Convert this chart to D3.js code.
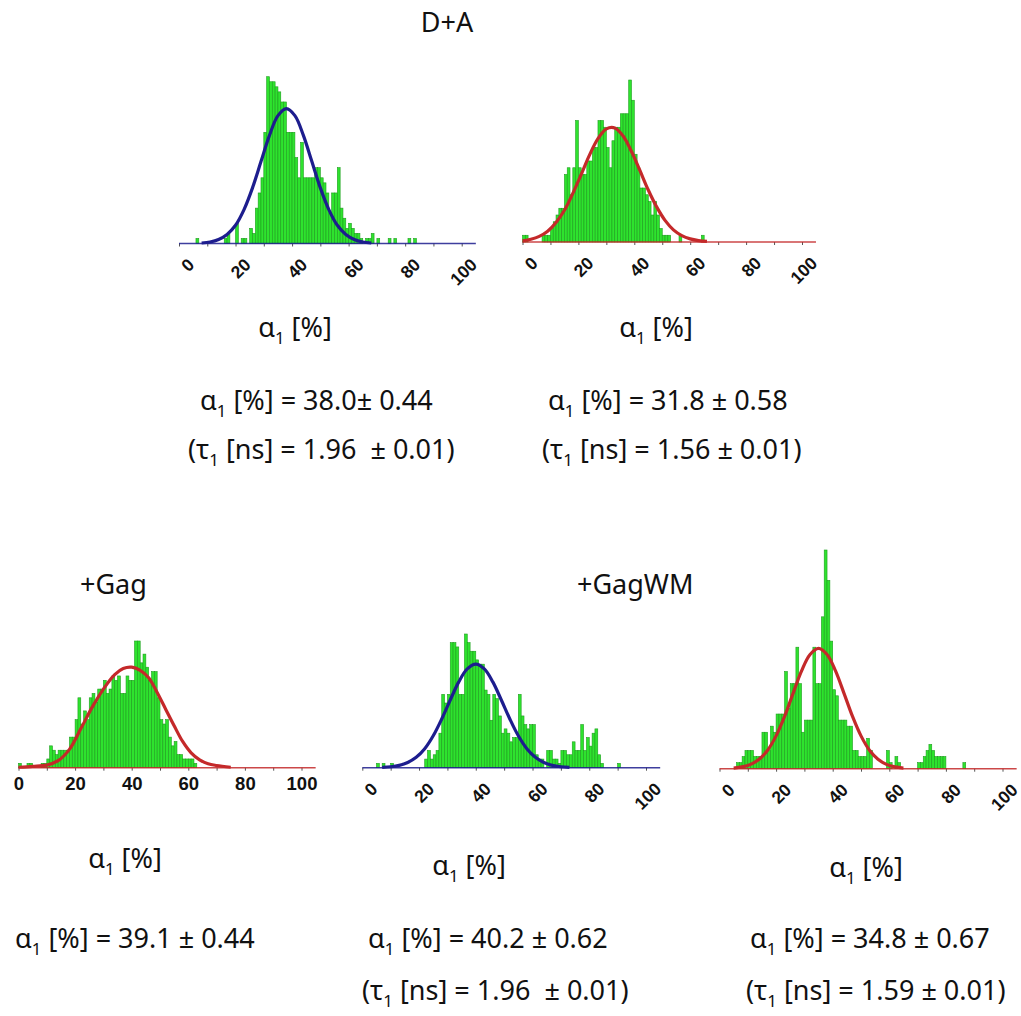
<!DOCTYPE html>
<html><head><meta charset="utf-8">
<script src="https://cdn.jsdelivr.net/npm/d3@7"></script>
<style>
body{margin:0;background:#fff}
svg{display:block}
text{white-space:pre}
</style>
</head><body>
<svg id="chart" width="1021" height="1016"></svg>
<script>
// ---------------- DATA ----------------
// Histogram counts per 1 % bin of alpha1, index = bin start (0,1,2,...)
const countsDA1 = [
 0,0,0,0,0,0,1,0,0,0,
 0,0,0,0,0,0,1,2,0,0,
 4,0,1,1,0,3,2,7,10,13,
 22,33,32,32,31,30,28,28,22,22,
 22,17,13,20,13,13,13,13,15,15,
 13,12,10,6,10,10,15,7,5,3,
 4,3,2,2,1,0,1,1,2,0,
 1,0,0,0,1,0,1,0,0,0,
 0,1,0,1,0];
const countsDA2 = [
 1,1,0,0,0,0,0,1,1,1,
 2,3,4,5,5,10,11,7,11,18,
 11,10,10,12,12,14,14,18,18,17,
 14,11,15,17,17,19,19,19,24,21,
 13,11,8,8,7,6,4,6,4,2,
 1,1,1,0,0,0,1,0,0,0,
 0,0,0,0,1];
const countsGag = [
 1,0,0,1,1,0,0,0,1,1,
 2,5,4,3,4,4,4,4,7,7,
 11,16,10,13,11,16,17,15,18,18,
 20,17,18,21,20,21,17,17,21,20,
 20,29,29,24,26,23,20,22,22,16,
 11,10,11,7,5,6,3,3,2,2,
 2,2,1,0];
const countsGagWM1 = [
 0,0,0,0,0,1,0,1,0,0,
 1,0,0,0,0,0,0,0,0,0,
 0,0,2,4,2,3,4,8,17,15,
 17,29,29,28,17,17,31,29,27,27,
 25,24,24,18,17,11,17,16,12,8,
 9,8,6,7,7,17,12,10,9,10,
 10,3,2,2,0,4,4,2,2,1,
 4,4,3,3,6,4,4,10,4,7,
 5,8,9,3,1,0,0,0,0,0,
 1];
const countsGagWM2 = [
 0,0,0,0,0,0,1,1,2,3,
 3,3,2,2,2,6,6,3,7,6,
 9,9,9,16,10,14,14,20,14,6,
 8,8,8,20,14,14,25,36,31,21,
 13,12,8,8,8,7,7,3,3,2,
 2,2,5,3,0,0,0,0,0,3,
 1,0,2,1,0,0,0,0,0,0,
 1,1,2,3,4,3,2,2,2,2,
 0,0,0,0,0,0,1];

// Gaussian fit curves, points [alpha1, count]
const fitDA1 = [[8,0.1],[11,0.3],[14,0.8],[17,1.8],[20,3.6],[23,6.7],[26,11.0],[29,16.2],[32,21.4],[35,25.3],[38,26.7],[41,25.3],[44,21.4],[47,16.2],[50,11.0],[53,6.7],[56,3.6],[59,1.8],[62,0.8],[65,0.3],[68,0.1]];
const fitDA2 = [[0,0.17],[3,0.4],[6,0.83],[9,1.6],[12,2.9],[15,4.7],[18,7.2],[21,10.0],[24,12.9],[27,15.3],[30,16.75],[33,16.9],[36,15.7],[39,13.4],[42,10.6],[45,7.7],[48,5.2],[51,3.2],[54,1.8],[57,0.95],[60,0.46],[63,0.21],[66,0.09]];
const fitGag = [[0,0.1],[5,0.3],[10,0.6],[14,1.6],[18,4.2],[22,8.9],[26,13.8],[30,18.0],[34,21.3],[37,22.7],[40,23.0],[43,22.3],[46,20.6],[49,17.2],[52,13.4],[55,9.6],[58,6.0],[61,3.4],[64,1.8],[67,0.9],[70,0.5],[75,0.1]];
const fitGagWM1 = [[7,0.08],[10,0.22],[13,0.54],[16,1.2],[19,2.4],[22,4.4],[25,7.4],[28,11.3],[31,15.7],[34,19.9],[37,22.9],[40,24],[43,22.9],[46,19.9],[49,15.7],[52,11.3],[55,7.4],[58,4.4],[61,2.4],[64,1.2],[67,0.54],[70,0.22],[73,0.08]];
const fitGagWM2 = [[5,0.11],[8,0.29],[11,0.71],[14,1.55],[17,3.04],[20,5.4],[23,8.6],[26,12.4],[29,16.1],[32,18.8],[35,19.8],[38,18.8],[41,16.1],[44,12.4],[47,8.6],[50,5.4],[53,3.04],[56,1.55],[59,0.71],[62,0.29],[65,0.11]];

// Axis ticks
const tickValues = [0,10,20,30,40,50,60,70,80,90,100];
const tickLabels = ["0","","20","","40","","60","","80","","100"];

// Texts
const groupTitles = ["D+A", "+Gag", "+GagWM"];
const alphaValues = ["38.0± 0.44", "31.8 ± 0.58", "39.1 ± 0.44", "40.2 ± 0.62", "34.8 ± 0.67"];
const tauValues   = ["1.96  ± 0.01", "1.56 ± 0.01", null, "1.96  ± 0.01", "1.59 ± 0.01"];

// ---------------- LAYOUT ----------------
const BLUE = "#1d1d8e", RED = "#c4292a";
const BAR_FILL = "#2ee32e", BAR_STROKE = "#1e9e1e";
const TXT_FONT = "'Noto Sans', 'Open Sans', sans-serif";
const TICK_FONT = "'Liberation Sans', Arial, sans-serif";
const FS = 27;

const panels = [
  {counts: countsDA1,    fit: fitDA1,    color: BLUE, x0: 179,   x100: 461.7,  base: 243.5, top: 76.7, rotated: true,
   xl: [295, 337], al: [200, 410], tl: [188, 459]},
  {counts: countsDA2,    fit: fitDA2,    color: RED,  x0: 522.5, x100: 802,    base: 242,   top: 80,   rotated: true,
   xl: [656, 337], al: [548, 410], tl: [542, 459]},
  {counts: countsGag,    fit: fitGag,    color: RED,  x0: 18.5,  x100: 301.5,  base: 767.7, top: 641,  rotated: false,
   xl: [125, 868], al: [15, 948],  tl: null},
  {counts: countsGagWM1, fit: fitGagWM1, color: BLUE, x0: 362.3, x100: 646,    base: 767.7, top: 634,  rotated: true,
   xl: [469, 875], al: [368, 948], tl: [362, 1000]},
  {counts: countsGagWM2, fit: fitGagWM2, color: RED,  x0: 719.5, x100: 1002.5, base: 768.7, top: 550,  rotated: true,
   xl: [866, 877], al: [750, 948], tl: [746, 1000]}
];

const svg = d3.select("#chart");
svg.append("rect").attr("width",1021).attr("height",1016).attr("fill","#fff");

// text helper with subscript
function mathText(x, y, parts, anchor) {
  const t = svg.append("text")
    .attr("x", x).attr("y", y)
    .attr("font-family", TXT_FONT).attr("font-size", FS)
    .attr("fill", "#111").attr("text-anchor", anchor || "start");
  parts.forEach(p => {
    const s = t.append("tspan").text(p[0]);
    if (p[1] === "sub") s.attr("font-size", FS*0.62).attr("dy", 7);
    else if (p[1] === "back") s.attr("dy", -7);
  });
  return t;
}

panels.forEach((p, i) => {
  const x = d3.scaleLinear().domain([0, 100]).range([p.x0, p.x100]);
  const y = d3.scaleLinear().domain([0, d3.max(p.counts)]).range([p.base, p.top]);
  const g = svg.append("g");

  // bars
  g.selectAll("rect.bar")
    .data(p.counts.map((c, k) => ({u: k, c: c})).filter(d => d.c > 0))
    .join("rect")
    .attr("class", "bar")
    .attr("x", d => x(d.u))
    .attr("width", d => x(d.u + 1) - x(d.u))
    .attr("y", d => y(d.c))
    .attr("height", d => p.base - y(d.c))
    .attr("fill", BAR_FILL)
    .attr("stroke", BAR_STROKE)
    .attr("stroke-width", 0.6);

  // axis with ticks
  const axis = d3.axisBottom(x)
    .tickValues(tickValues)
    .tickSize(3)
    .tickSizeOuter(0)
    .tickFormat((d, k) => tickLabels[k]);
  const ag = g.append("g").attr("transform", `translate(0,${p.base})`).call(axis);
  ag.select(".domain").remove();
  ag.selectAll(".tick line").attr("stroke", "#555").attr("stroke-width", 1);
  ag.selectAll(".tick text")
    .attr("font-family", TICK_FONT)
    .attr("font-weight", "bold")
    .attr("fill", "#111");
  if (p.rotated) {
    ag.selectAll(".tick text")
      .attr("font-size", 17.5)
      .attr("x", 0).attr("y", 0).attr("dy", "0.35em")
      .attr("text-anchor", "end")
      .attr("transform", "translate(11.5,18) rotate(-45)");
  } else {
    ag.selectAll(".tick text")
      .attr("font-size", 18.5)
      .attr("y", 22.5).attr("dy", 0);
  }

  // baseline (axis line) in curve colour
  g.append("line")
    .attr("x1", x(0)).attr("x2", x(105))
    .attr("y1", p.base).attr("y2", p.base)
    .attr("stroke", p.color).attr("stroke-width", 1.6).attr("opacity", 0.85);

  // fit curve
  const line = d3.line()
    .x(d => x(d[0])).y(d => y(d[1]))
    .curve(d3.curveCatmullRom.alpha(0.5));
  g.append("path")
    .attr("d", line(p.fit))
    .attr("fill", "none")
    .attr("stroke", p.color)
    .attr("stroke-width", 3.2)
    .attr("stroke-linejoin", "round");

  // texts
  mathText(p.xl[0], p.xl[1], [["α"], ["1","sub"], [" [%]","back"]], "middle");
  mathText(p.al[0], p.al[1], [["α"], ["1","sub"], [" [%] = " + alphaValues[i], "back"]]);
  if (p.tl && tauValues[i]) {
    mathText(p.tl[0], p.tl[1], [["(τ"], ["1","sub"], [" [ns] = " + tauValues[i] + ")", "back"]]);
  }
});

// group titles
svg.append("text").attr("x", 447).attr("y", 32).attr("text-anchor","middle")
  .attr("font-family", TXT_FONT).attr("font-size", FS).attr("fill","#111").text(groupTitles[0]);
svg.append("text").attr("x", 80).attr("y", 594)
  .attr("font-family", TXT_FONT).attr("font-size", FS).attr("fill","#111").text(groupTitles[1]);
svg.append("text").attr("x", 577).attr("y", 594)
  .attr("font-family", TXT_FONT).attr("font-size", FS).attr("fill","#111").text(groupTitles[2]);
</script>
</body></html>
